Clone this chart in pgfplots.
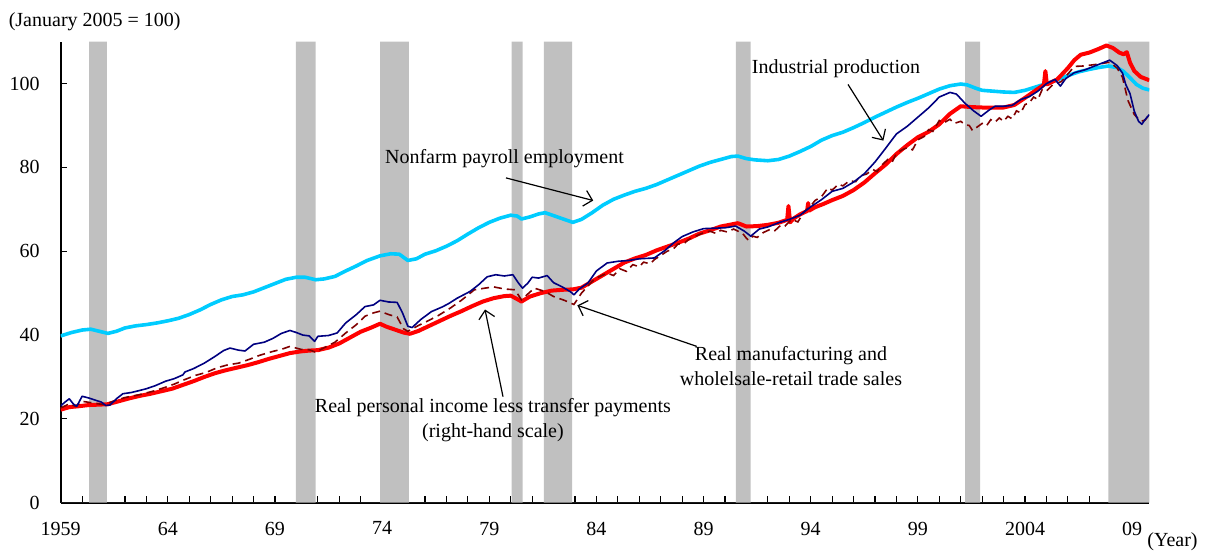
\documentclass[border=0pt]{standalone}
\usepackage{fontspec}
\setmainfont{Liberation Serif}
\usepackage{pgfplots}
\pgfplotsset{compat=1.18}
\usetikzlibrary{arrows.meta}
\definecolor{cyanl}{RGB}{0,204,255}
\definecolor{navyl}{RGB}{0,0,128}
\definecolor{brownl}{RGB}{128,0,0}
\definecolor{shade}{RGB}{192,192,192}
\begin{document}
\begin{tikzpicture}
\path[use as bounding box] (-30.35pt,-25.15pt) rectangle (574.15pt,251.35pt);
\begin{axis}[
  at={(0pt,0pt)}, anchor=south west,
  scale only axis, width=544.3pt, height=230.5pt,
  xmin=1959, xmax=2009.8, ymin=0, ymax=110,
  axis lines*=left, axis line style={-, black, line width=0.8pt},
  tick align=inside, xtick pos=left, ytick pos=left,
  major tick length=3.2pt, minor tick length=3.2pt,
  tick style={black, line width=0.6pt},
  xtick={1959,1964,1969,1974,1979,1984,1989,1994,1999,2004,2009},
  xticklabels={1959,64,69,74,79,84,89,94,99,2004,09},
  minor x tick num=4,
  ytick={0,20,40,60,80,100},
  /pgf/number format/assume math mode=true,
  tick label style={font=\fontsize{10}{12}\selectfont},
  yticklabel style={xshift=-7pt},
  xticklabel style={yshift=-6pt},
  clip=true,
]
% recession shading
\addplot[const plot, fill=shade, draw=none, forget plot] coordinates {
(1959,0) (1960.33,110) (1961.15,0) (1969.98,110) (1970.9,0) (1973.9,110) (1975.25,0)
(1980.04,110) (1980.55,0) (1981.55,110) (1982.87,0) (1990.51,110) (1991.2,0)
(2001.2,110) (2001.9,0) (2007.89,110) (2009.8,110)} \closedcycle;

% Nonfarm payroll employment
\addplot[color=cyanl, line width=1.8pt, line join=round] coordinates {
(1959.0,39.8) (1959.5,40.6) (1960.0,41.2) (1960.4,41.4) (1960.8,40.9) (1961.2,40.4)
(1961.6,40.9) (1962.0,41.7) (1962.5,42.2) (1963.0,42.5) (1963.5,42.9) (1964.0,43.4)
(1964.5,44.0) (1965.0,44.9) (1965.5,46.0) (1966.0,47.3) (1966.5,48.4) (1967.0,49.2)
(1967.5,49.6) (1968.0,50.3) (1968.5,51.3) (1969.0,52.3) (1969.5,53.3) (1970.0,53.8)
(1970.4,53.8) (1970.9,53.2) (1971.3,53.4) (1971.8,54.0) (1972.3,55.3) (1972.8,56.5)
(1973.3,57.8) (1973.9,58.9) (1974.4,59.4) (1974.8,59.3) (1975.2,57.8) (1975.6,58.2)
(1976.0,59.3) (1976.5,60.1) (1977.0,61.2) (1977.5,62.5) (1978.0,64.1) (1978.5,65.6)
(1979.0,66.9) (1979.5,67.9) (1980.0,68.6) (1980.3,68.4) (1980.5,67.7) (1980.9,68.2)
(1981.3,68.9) (1981.6,69.2) (1982.0,68.5) (1982.5,67.6) (1982.9,66.9) (1983.3,67.6)
(1983.8,69.2) (1984.3,71.0) (1984.8,72.4) (1985.3,73.4) (1985.8,74.3) (1986.3,75.0)
(1986.8,75.9) (1987.3,77.0) (1987.8,78.1) (1988.3,79.2) (1988.8,80.3) (1989.3,81.2)
(1989.8,81.9) (1990.3,82.6) (1990.6,82.7) (1991.0,82.1) (1991.4,81.8) (1992.0,81.6)
(1992.5,81.9) (1993.0,82.7) (1993.5,83.8) (1994.0,85.0) (1994.5,86.5) (1995.0,87.6)
(1995.5,88.4) (1996.0,89.5) (1996.5,90.7) (1997.0,92.0) (1997.5,93.2) (1998.0,94.4)
(1998.5,95.5) (1999.0,96.5) (1999.5,97.6) (2000.0,98.7) (2000.5,99.5) (2001.0,99.9)
(2001.3,99.7) (2001.7,98.9) (2002.0,98.4) (2002.5,98.2) (2003.0,98.0) (2003.5,97.9)
(2004.0,98.4) (2004.5,99.2) (2005.0,100.0) (2005.5,100.9) (2006.0,101.9) (2006.5,102.8)
(2007.0,103.4) (2007.5,103.9) (2007.9,104.2) (2008.3,103.8) (2008.6,102.9) (2008.9,101.4)
(2009.2,99.8) (2009.5,98.9) (2009.8,98.5)};

% Real personal income less transfer payments
\addplot[color=red, line width=2pt, line join=round] coordinates {
(1959.0,22.2) (1959.4,22.8) (1959.8,23.0) (1960.3,23.3) (1960.8,23.4) (1961.2,23.5)
(1961.7,24.2) (1962.2,24.9) (1962.7,25.5) (1963.2,26.0) (1963.7,26.6) (1964.2,27.2)
(1964.7,28.1) (1965.2,29.0) (1965.7,30.0) (1966.2,30.9) (1966.7,31.6) (1967.2,32.2)
(1967.7,32.8) (1968.2,33.5) (1968.7,34.3) (1969.2,35.0) (1969.7,35.7) (1970.2,36.1)
(1970.6,36.3) (1971.0,36.4) (1971.5,37.0) (1972.0,38.0) (1972.5,39.4) (1973.0,40.8)
(1973.5,41.8) (1973.9,42.7) (1974.2,42.0) (1974.6,41.3) (1975.0,40.6) (1975.3,40.3)
(1975.7,41.0) (1976.2,42.2) (1976.7,43.4) (1977.2,44.6) (1977.7,45.7) (1978.2,46.9)
(1978.7,48.0) (1979.2,48.8) (1979.7,49.3) (1980.0,49.4) (1980.3,48.6) (1980.5,48.0)
(1980.9,49.2) (1981.4,50.0) (1981.9,50.6) (1982.4,50.8) (1982.9,50.9) (1983.3,51.3)
(1983.8,52.8) (1984.3,54.3) (1984.8,55.8) (1985.3,57.3) (1985.8,58.3) (1986.3,59.1)
(1986.8,60.2) (1987.3,61.1) (1987.8,62.0) (1988.3,63.0) (1988.8,64.2) (1989.3,65.0)
(1989.8,65.9) (1990.3,66.4) (1990.6,66.7) (1991.0,65.9) (1991.5,66.0) (1992.0,66.3)
(1992.5,66.8) (1992.9,67.5) (1992.96,70.8) (1993.04,66.9) (1993.2,67.8) (1993.5,68.8)
(1993.83,69.6) (1993.88,71.5) (1993.93,69.7) (1994.2,70.5) (1994.6,71.3) (1995.0,72.2)
(1995.5,73.2) (1996.0,74.6) (1996.5,76.4) (1997.0,78.6) (1997.5,80.7) (1998.0,83.2)
(1998.5,85.3) (1999.0,87.2) (1999.5,88.5) (2000.0,90.3) (2000.5,92.8) (2001.0,94.6)
(2001.5,94.4) (2002.0,94.3) (2002.5,94.3) (2003.0,94.3) (2003.5,94.9) (2004.0,96.6)
(2004.5,98.4) (2004.88,99.7) (2004.95,103.0) (2005.02,99.8) (2005.5,101.0) (2006.0,103.7)
(2006.3,105.6) (2006.6,106.9) (2007.0,107.4) (2007.4,108.2) (2007.8,109.1) (2008.1,108.5)
(2008.4,107.4) (2008.6,107.0) (2008.75,107.5) (2008.9,105.0) (2009.1,103.0) (2009.4,101.6)
(2009.8,100.8)};

% Real manufacturing and wholesale-retail trade sales
\addplot[color=brownl, line width=0.8pt, dash pattern=on 4pt off 2.5pt] coordinates {
(1959.0,22.6) (1959.4,23.6) (1959.7,23.0) (1960.0,24.2) (1960.5,23.8) (1961.0,23.4)
(1961.5,24.3) (1962.0,25.1) (1962.7,25.8) (1963.3,26.6) (1963.8,27.4) (1964.3,28.3)
(1964.8,29.4) (1965.3,30.4) (1965.8,31.1) (1966.3,32.2) (1966.8,32.9) (1967.3,33.3)
(1967.8,34.2) (1968.3,35.2) (1968.9,36.1) (1969.3,36.6) (1969.7,37.3) (1970.2,36.6)
(1970.6,36.5) (1970.9,35.9) (1971.3,37.0) (1971.8,38.3) (1972.3,40.5) (1972.8,42.5)
(1973.2,44.5) (1973.6,45.3) (1973.9,45.7) (1974.3,44.9) (1974.7,44.3) (1975.0,41.5)
(1975.2,40.9) (1975.7,42.3) (1976.1,43.3) (1976.6,44.6) (1977.2,46.5) (1977.7,48.3)
(1978.3,50.8) (1978.8,51.2) (1979.2,51.5) (1979.7,51.0) (1980.2,50.8) (1980.5,48.4)
(1980.8,49.8) (1981.1,51.2) (1981.6,50.4) (1982.0,49.2) (1982.5,48.3) (1982.95,47.3)
(1983.3,50.0) (1983.8,52.8) (1984.0,53.6) (1984.5,54.8) (1984.8,54.2) (1985.1,55.8)
(1985.4,55.2) (1985.7,56.8) (1986.0,56.3) (1986.2,57.4) (1986.5,57.0) (1986.7,58.0)
(1987.0,59.0) (1987.3,60.0) (1987.6,60.6) (1987.8,61.7) (1988.1,61.9) (1988.3,62.8)
(1988.6,63.5) (1988.8,64.0) (1989.1,64.6) (1989.3,64.8) (1989.6,64.2) (1989.8,65.0)
(1990.1,64.6) (1990.4,65.3) (1990.6,64.8) (1990.8,64.4) (1991.0,63.1) (1991.1,62.6)
(1991.3,63.6) (1991.5,63.3) (1991.8,64.5) (1992.1,65.2) (1992.3,64.8) (1992.6,66.2)
(1992.8,66.0) (1993.1,67.6) (1993.4,67.0) (1993.7,69.5) (1994.0,70.8) (1994.2,72.1)
(1994.5,73.0) (1994.8,75.1) (1995.0,74.6) (1995.3,76.0) (1995.5,75.6) (1995.8,76.8)
(1996.1,76.6) (1996.3,78.0) (1996.6,78.4) (1996.9,79.5) (1997.1,79.0) (1997.3,80.5)
(1997.6,81.9) (1997.8,81.3) (1998.0,83.4) (1998.3,84.3) (1998.5,84.7) (1998.75,84.2)
(1999.0,86.6) (1999.3,87.4) (1999.5,89.0) (1999.7,88.6) (2000.0,91.2) (2000.2,90.6)
(2000.5,91.5) (2000.7,90.5) (2001.0,91.0) (2001.2,90.2) (2001.4,90.0) (2001.55,88.8)
(2001.7,89.4) (2002.0,90.5) (2002.2,89.9) (2002.4,91.4) (2002.6,90.8) (2002.8,91.8)
(2003.0,91.0) (2003.2,92.2) (2003.4,91.6) (2003.6,93.5) (2003.8,93.0) (2004.0,95.0)
(2004.2,95.4) (2004.4,96.8) (2004.6,96.2) (2004.8,98.6) (2005.0,98.2) (2005.3,99.8)
(2005.7,100.5) (2006.0,102.3) (2006.3,104.1) (2006.7,104.2) (2007.2,104.5) (2007.6,104.8)
(2007.95,105.1) (2008.3,103.7) (2008.55,101.5) (2008.8,96.0) (2009.1,92.6) (2009.4,91.0)
(2009.6,91.3) (2009.8,92.6)};

% Industrial production
\addplot[color=navyl, line width=0.8pt, line join=round] coordinates {
(1959.0,23.1) (1959.2,24.0) (1959.4,24.8) (1959.6,23.5) (1959.75,23.0) (1960.0,25.4)
(1960.3,25.0) (1960.6,24.5) (1960.9,24.0) (1961.1,23.2) (1961.3,23.3) (1961.6,24.8)
(1961.9,26.0) (1962.3,26.3) (1962.7,26.8) (1963.0,27.2) (1963.4,27.9) (1963.9,29.0)
(1964.3,29.6) (1964.7,30.5) (1964.8,31.2) (1965.2,32.0) (1965.7,33.3) (1966.2,34.9)
(1966.6,36.3) (1966.9,36.9) (1967.3,36.4) (1967.6,36.2) (1968.0,37.8) (1968.5,38.3)
(1968.9,39.2) (1969.3,40.4) (1969.7,41.1) (1970.0,40.6) (1970.3,40.0) (1970.6,39.8)
(1970.85,38.5) (1971.0,39.7) (1971.5,39.9) (1971.9,40.5) (1972.3,42.9) (1972.8,44.9)
(1973.2,46.8) (1973.6,47.2) (1973.9,48.3) (1974.3,47.9) (1974.7,47.8) (1974.95,45.3)
(1975.2,42.1) (1975.4,41.8) (1975.8,43.7) (1976.3,45.6) (1976.8,46.7) (1977.1,47.5)
(1977.5,48.8) (1978.1,50.4) (1978.5,52.0) (1978.9,53.9) (1979.3,54.4) (1979.7,54.1)
(1980.1,54.4) (1980.35,52.5) (1980.55,51.2) (1980.8,52.4) (1981.0,53.8) (1981.3,53.6)
(1981.7,54.2) (1982.0,52.5) (1982.4,51.5) (1982.8,50.3) (1982.95,49.6) (1983.2,51.0)
(1983.6,52.4) (1984.0,55.3) (1984.5,57.2) (1985.0,57.6) (1985.5,57.8) (1986.0,58.2)
(1986.7,58.4) (1987.2,60.2) (1987.6,62.0) (1988.0,63.5) (1988.5,64.6) (1989.0,65.4)
(1989.5,65.5) (1990.0,65.6) (1990.5,66.0) (1990.9,64.8) (1991.2,63.6) (1991.6,65.3)
(1992.0,65.8) (1992.5,66.8) (1993.0,67.6) (1993.5,68.6) (1994.0,70.6) (1994.5,72.3)
(1995.0,74.3) (1995.5,75.0) (1996.0,76.5) (1996.5,78.5) (1997.0,81.3) (1997.5,84.6)
(1998.0,88.0) (1998.5,89.8) (1999.0,92.0) (1999.5,94.2) (2000.0,96.8) (2000.5,97.9)
(2000.8,97.5) (2001.2,95.3) (2001.6,93.5) (2001.95,92.2) (2002.3,93.6) (2002.6,94.6)
(2003.0,94.6) (2003.4,94.8) (2003.8,96.2) (2004.2,96.9) (2004.6,98.2) (2005.0,100.0)
(2005.4,101.0) (2005.65,99.4) (2005.9,101.2) (2006.3,102.6) (2006.8,103.3) (2007.2,104.1)
(2007.6,104.9) (2007.95,105.6) (2008.3,104.3) (2008.55,102.5) (2008.7,99.8) (2008.9,97.6)
(2009.1,93.4) (2009.3,91.0) (2009.45,90.3) (2009.6,91.4) (2009.8,92.6)};

% annotations
\node[font=\fontsize{10}{12.5}\selectfont] at (axis cs:1995.18,103.6) {Industrial production};
\draw[-{Straight Barb[length=4pt]}, line width=0.6pt] (axis cs:1995.74,99.8) -- (axis cs:1997.39,86.4);
\node[font=\fontsize{10}{12.5}\selectfont] at (axis cs:1979.71,82.0) {Nonfarm payroll employment};
\draw[-{Straight Barb[length=4pt]}, line width=0.6pt] (axis cs:1979.78,77.5) -- (axis cs:1983.85,72.1);
\node[font=\fontsize{10}{12.5}\selectfont, align=center] at (axis cs:1993.08,32.6) {Real manufacturing and\\wholelsale-retail trade sales};
\draw[-{Straight Barb[length=4pt]}, line width=0.6pt] (axis cs:1988.68,37.3) -- (axis cs:1983.11,47.1);
\node[font=\fontsize{10}{12.5}\selectfont, align=center] at (axis cs:1979.17,19.7) {Real personal income less transfer payments\\(right-hand scale)};
\draw[-{Straight Barb[length=4pt]}, line width=0.6pt] (axis cs:1979.64,25.3) -- (axis cs:1978.8,46.1);
\end{axis}
\node[font=\fontsize{10}{12}\selectfont] at (17pt,240.5pt) {(January 2005 = 100)};
\node[font=\fontsize{10}{12}\selectfont] at (555.9pt,-19.5pt) {(Year)};
\end{tikzpicture}
\end{document}
